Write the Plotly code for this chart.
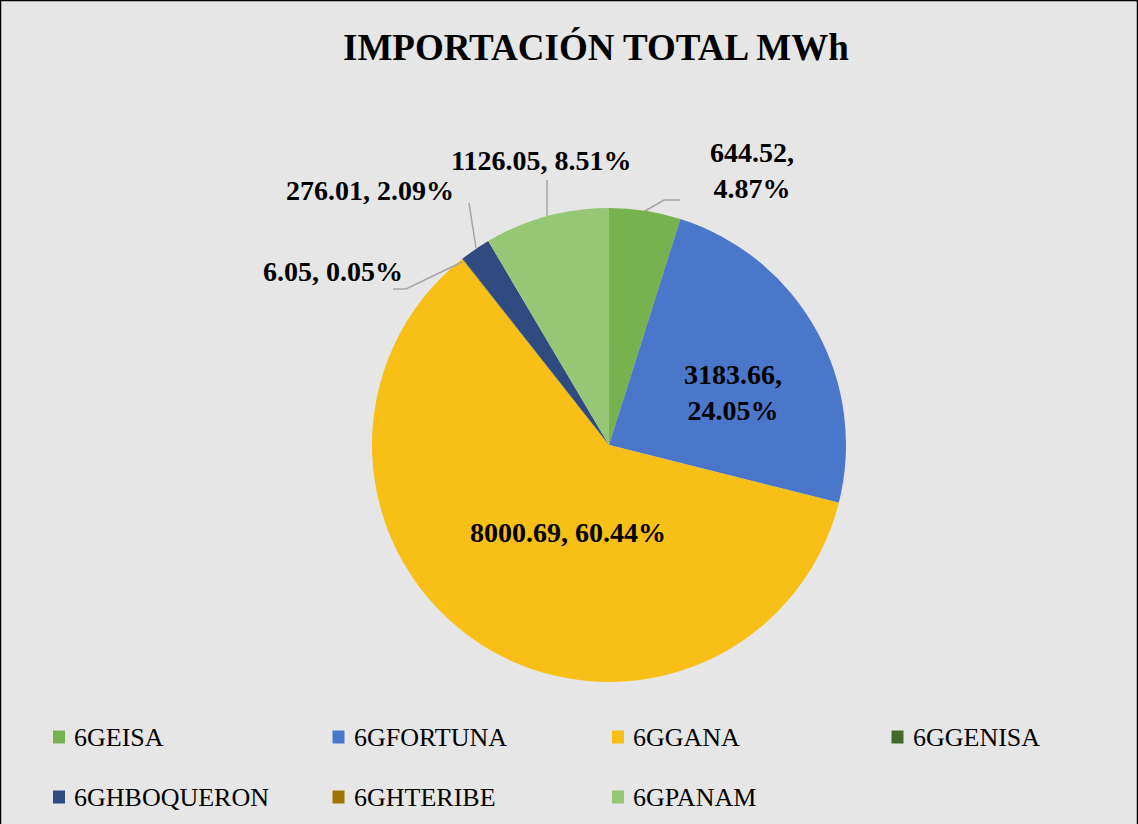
import plotly.graph_objects as go

# datos
categories = ["6GEISA", "6GFORTUNA", "6GGANA", "6GGENISA", "6GHBOQUERON", "6GHTERIBE", "6GPANAM"]
values = [644.52, 3183.66, 8000.69, 6.05, 276.01, 0.0, 1126.05]
colors = ["#76B24D", "#4B77CA", "#F8BF17", "#43682B", "#2F4B80", "#9E7400", "#95C775"]

W, H = 1138, 824
FONT = "Liberation Serif"


def px(x, y):
    return x / W, 1 - y / H


total = sum(values)
pcts = [v / total * 100 for v in values]

# posiciones de etiquetas (px) y lineas guia, estilo Excel
label_pos = {
    "6GEISA": (752, 170, True),
    "6GFORTUNA": (733, 392, True),
    "6GGANA": (568, 532, False),
    "6GGENISA": (333, 271, False),
    "6GHBOQUERON": (370, 191, False),
    "6GPANAM": (541, 160, False),
}
leaders = [
    [(645, 211), (664, 200), (680, 200)],
    [(547, 216), (547, 180)],
    [(476, 248), (469, 203)],
    [(462, 262), (406, 289), (393, 289)],
]

cx, cy, r = 609, 445, 237
fig = go.Figure(go.Pie(
    labels=categories,
    values=values,
    marker=dict(colors=colors, line=dict(width=0)),
    sort=False,
    direction="clockwise",
    rotation=0,
    textinfo="none",
    showlegend=False,
    domain=dict(x=[(cx - r) / W, (cx + r) / W], y=[1 - (cy + r) / H, 1 - (cy - r) / H]),
))

annotations = []
for cat, v, p in zip(categories, values, pcts):
    if cat not in label_pos:
        continue
    x, y, two = label_pos[cat]
    sep = ",<br>" if two else ", "
    ax, ay = px(x, y)
    annotations.append(dict(
        text=f"<b>{v:.2f}{sep}{p:.2f}%</b>", x=ax, y=ay, xref="paper", yref="paper",
        showarrow=False, xanchor="center", yanchor="middle",
        font=dict(family=FONT, size=28, color="black"), align="center",
    ))

shapes = []
for pts in leaders:
    path = "M " + " L ".join(f"{a[0]},{a[1]}" for a in [px(*q) for q in pts])
    shapes.append(dict(type="path", path=path, xref="paper", yref="paper",
                       line=dict(color="#A6A6A6", width=1.5)))

# leyenda manual (4 columnas)
for i, (cat, col) in enumerate(zip(categories, colors)):
    row, c = divmod(i, 4)
    mx = 53 + c * 279.5
    my = 737 + row * 60
    x0, y0 = px(mx, my + 6.5)
    x1, y1 = px(mx + 12, my - 6.5)
    shapes.append(dict(type="rect", xref="paper", yref="paper", x0=x0, y0=y0, x1=x1, y1=y1,
                       fillcolor=col, line=dict(width=0)))
    tx, ty = px(mx + 19, my)
    annotations.append(dict(
        text=cat, x=tx, y=ty, xref="paper", yref="paper", showarrow=False,
        xanchor="left", yanchor="middle", font=dict(family=FONT, size=26, color="black"),
    ))

# titulo
tx, ty = px(W / 2 + 27, 47)
annotations.append(dict(
    text="<b>IMPORTACIÓN TOTAL MWh</b>", x=tx, y=ty, xref="paper", yref="paper",
    showarrow=False, xanchor="center", yanchor="middle",
    font=dict(family=FONT, size=37, color="black"),
))

# borde
shapes.append(dict(type="rect", xref="paper", yref="paper", x0=0, y0=-0.01, x1=1, y1=1,
                   line=dict(color="black", width=2.5), fillcolor="rgba(0,0,0,0)"))

fig.update_layout(
    width=W, height=H,
    margin=dict(l=0, r=0, t=0, b=0),
    paper_bgcolor="#E7E6E6",
    plot_bgcolor="#E7E6E6",
    annotations=annotations,
    shapes=shapes,
)

fig.write_html("out.html", config={"displayModeBar": False},
               post_script="document.body.style.margin='0';")
